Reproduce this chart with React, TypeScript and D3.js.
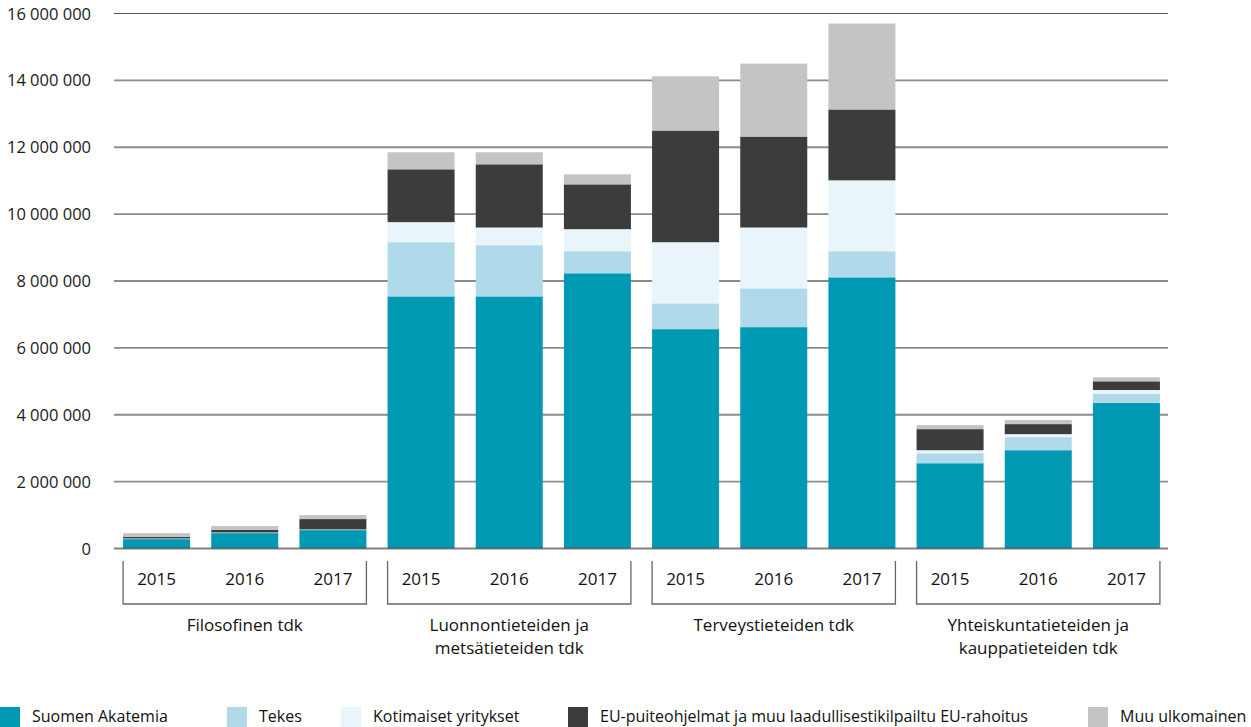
import React, { useEffect, useRef } from 'react';
import * as d3 from 'd3';

const W = 1251;
const H = 727;

const years = ['2015', '2016', '2017'];
const faculties = [
  ['Filosofinen tdk'],
  ['Luonnontieteiden ja', 'metsätieteiden tdk'],
  ['Terveystieteiden tdk'],
  ['Yhteiskuntatieteiden ja', 'kauppatieteiden tdk'],
];

const seriesNames = [
  'Suomen Akatemia',
  'Tekes',
  'Kotimaiset yritykset',
  'EU-puiteohjelmat ja muu laadullisestikilpailtu EU-rahoitus',
  'Muu ulkomainen',
];
const colors = ['#0099b3', '#b0d9ea', '#e9f4fb', '#3c3c3b', '#c4c4c4'];

// values per bar (faculty x year), in euros
const suomenAkatemia = [
  280000, 460000, 550000,
  7540000, 7540000, 8230000,
  6560000, 6620000, 8110000,
  2550000, 2940000, 4350000,
];
const tekes = [
  10000, 10000, 10000,
  1620000, 1530000, 660000,
  770000, 1160000, 780000,
  300000, 390000, 270000,
];
const kotimaiset = [
  10000, 10000, 10000,
  600000, 530000, 660000,
  1830000, 1820000, 2120000,
  90000, 90000, 120000,
];
const euRahoitus = [
  50000, 80000, 310000,
  1580000, 1890000, 1340000,
  3340000, 2720000, 2120000,
  630000, 300000, 260000,
];
const muuUlkomainen = [
  110000, 110000, 120000,
  510000, 360000, 300000,
  1620000, 2180000, 2570000,
  120000, 120000, 120000,
];

const yTicks = [0, 2e6, 4e6, 6e6, 8e6, 10e6, 12e6, 14e6, 16e6];

const font = '"Open Sans", sans-serif';

export default function App() {
  const ref = useRef<SVGSVGElement>(null);

  useEffect(() => {
    if (!ref.current) return;
    const svg = d3.select(ref.current);
    svg.selectAll('*').remove();

    const keys = faculties.flatMap((_, fi) => years.map((y) => `${fi}-${y}`));
    const rows = keys.map((k, i) => ({
      key: k,
      s0: suomenAkatemia[i],
      s1: tekes[i],
      s2: kotimaiset[i],
      s3: euRahoitus[i],
      s4: muuUlkomainen[i],
    }));

    const x = d3
      .scaleBand<string>()
      .domain(keys)
      .range([112.5, 1170.5])
      .paddingInner(0.24)
      .paddingOuter(0.12);

    const y = d3.scaleLinear().domain([0, 16e6]).range([548.5, 13.5]);

    const fmt = (v: number) => d3.format(',')(v).replace(/,/g, ' ');

    // gridlines
    svg
      .append('g')
      .selectAll('line')
      .data(yTicks.filter((t) => t > 0))
      .enter()
      .append('line')
      .attr('x1', 114)
      .attr('x2', 1168)
      .attr('y1', (d) => y(d))
      .attr('y2', (d) => y(d))
      .attr('stroke', (d) => (d === 16e6 ? '#555' : '#8c8c8c'))
      .attr('stroke-width', (d) => (d === 16e6 ? 1.2 : 1.8));

    // y labels
    svg
      .append('g')
      .selectAll('text')
      .data(yTicks)
      .enter()
      .append('text')
      .attr('x', 91)
      .attr('y', (d) => y(d) + 6)
      .attr('text-anchor', 'end')
      .attr('font-family', font)
      .attr('font-size', 16.5)
      .attr('fill', '#1a1a1a')
      .text((d) => fmt(d));

    // stacked bars
    const stack = d3.stack<any>().keys(['s0', 's1', 's2', 's3', 's4']);
    const stacked = stack(rows);
    svg
      .append('g')
      .selectAll('g')
      .data(stacked)
      .enter()
      .append('g')
      .attr('fill', (_, i) => colors[i])
      .selectAll('rect')
      .data((d) => d)
      .enter()
      .append('rect')
      .attr('x', (d) => x(d.data.key) ?? 0)
      .attr('width', x.bandwidth())
      .attr('y', (d) => y(d[1]))
      .attr('height', (d) => y(d[0]) - y(d[1]));

    // baseline
    svg
      .append('line')
      .attr('x1', 114)
      .attr('x2', 1168)
      .attr('y1', y(0))
      .attr('y2', y(0))
      .attr('stroke', '#4a4a4a')
      .attr('stroke-opacity', 0.7)
      .attr('stroke-width', 1.8);

    // year labels
    svg
      .append('g')
      .selectAll('text')
      .data(rows)
      .enter()
      .append('text')
      .attr('x', (d) => (x(d.key) ?? 0) + x.bandwidth() / 2)
      .attr('y', 585)
      .attr('text-anchor', 'middle')
      .attr('font-family', font)
      .attr('font-size', 17)
      .attr('fill', '#111')
      .text((d) => d.key.split('-')[1]);

    // brackets + group labels
    faculties.forEach((lines, fi) => {
      const x0 = x(`${fi}-2015`) ?? 0;
      const x1 = (x(`${fi}-2017`) ?? 0) + x.bandwidth();
      svg
        .append('path')
        .attr('d', `M${x0},561V604H${x1}V561`)
        .attr('fill', 'none')
        .attr('stroke', '#666')
        .attr('stroke-width', 1.3);
      const t = svg
        .append('text')
        .attr('x', (x0 + x1) / 2)
        .attr('y', 631)
        .attr('text-anchor', 'middle')
        .attr('font-family', font)
        .attr('font-size', 17)
        .attr('fill', '#111');
      lines.forEach((l, li) => {
        t.append('tspan')
          .attr('x', (x0 + x1) / 2)
          .attr('dy', li === 0 ? 0 : 23)
          .text(l);
      });
    });

    // legend
    const legendX = [0, 227, 341, 568, 1088];
    const lg = svg
      .append('g')
      .selectAll('g')
      .data(seriesNames)
      .enter()
      .append('g')
      .attr('transform', (_, i) => `translate(${legendX[i]},707)`);
    lg.append('rect')
      .attr('width', 20)
      .attr('height', 20)
      .attr('fill', (_, i) => colors[i]);
    lg.append('text')
      .attr('x', 32)
      .attr('y', 15)
      .attr('font-family', font)
      .attr('font-size', 16)
      .attr('fill', '#111')
      .text((d) => d);
  }, []);

  return (
    <div style={{ position: 'absolute', left: 0, top: 0, background: '#fff' }}>
      <svg ref={ref} width={W} height={H} style={{ display: 'block' }} />
    </div>
  );
}
